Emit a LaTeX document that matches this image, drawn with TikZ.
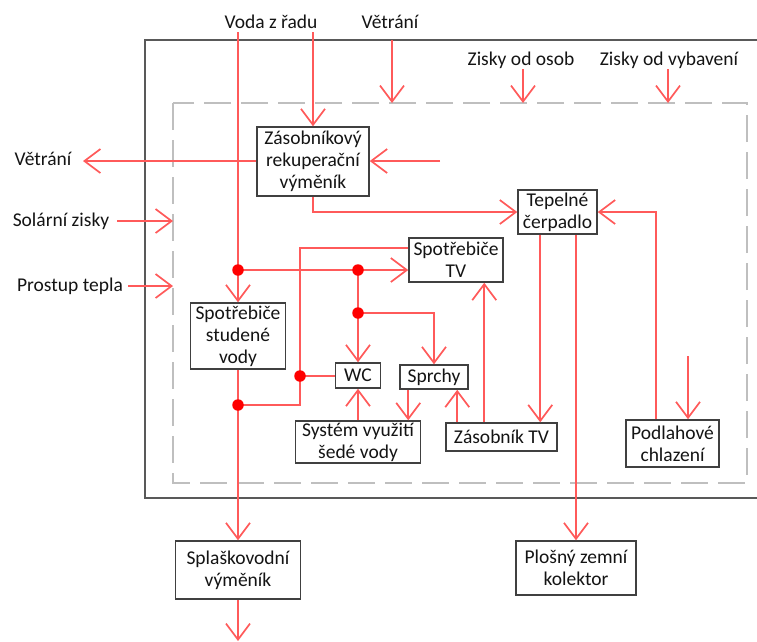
\documentclass[tikz,border=0pt]{standalone}
\usepackage{fontspec}
\setmainfont{Carlito}
\usetikzlibrary{arrows.meta}
\definecolor{flowred}{HTML}{FF5A5A}
\definecolor{dotred}{HTML}{FF0000}
\definecolor{boxgray}{HTML}{404040}
\definecolor{wallgray}{HTML}{595959}
\definecolor{zonegray}{HTML}{BFBFBF}
\definecolor{txt}{HTML}{141414}
\begin{document}
\begin{tikzpicture}[x=1pt,y=-1pt,
  >={Straight Barb[length=16pt,width=24pt]},
  every node/.style={text=txt, font=\fontsize{19.5}{22}\selectfont},
  box/.style={draw=boxgray, line width=1.5pt, fill=white, align=center, inner sep=0pt},
  flow/.style={draw=flowred, line width=1.7pt, ->},
  link/.style={draw=flowred, line width=1.7pt},
  junction/.style={circle, fill=dotred, inner sep=0pt, minimum size=11.5pt},
  lbl/.style={inner sep=0pt, anchor=center}
]
\useasboundingbox (0,0) rectangle (757,641);

% building envelope and heated zone
\draw[wallgray, line width=2pt] (757,40) -- (145,40) -- (145,498) -- (757,498);
\draw[zonegray, line width=1.5pt, dash pattern=on 27pt off 10pt] (173,103) rectangle (747,483);

% outer labels
\node[lbl] (tvoda) at (271,22) {Voda z řadu};
\node[lbl] (tvent) at (390,22) {Větrání};
\node[lbl] (tosob) at (521,60) {Zisky od osob};
\node[lbl] (tvyb) at (669,60) {Zisky od vybavení};
\node[lbl] (tventout) at (43,159) {Větrání};
\node[lbl] (tsol) at (61,221) {Solární zisky};
\node[lbl] (tprost) at (70,286) {Prostup tepla};

% components
\node[box, minimum width=112pt, minimum height=69pt] (zrv) at (313,161.5) {Zásobníkový\\rekuperační\\výměník};
\node[box, minimum width=79pt, minimum height=44pt] (tc) at (557.5,212) {Tepelné\\čerpadlo};
\node[box, minimum width=94pt, minimum height=44pt] (stv) at (456,260) {Spotřebiče\\TV};
\node[box, minimum width=95pt, minimum height=66pt] (ssv) at (238,336) {Spotřebiče\\studené\\vody};
\node[box, minimum width=45pt, minimum height=25pt] (wc) at (358,375.5) {WC};
\node[box, minimum width=68pt, minimum height=24pt] (spr) at (434,377) {Sprchy};
\node[box, minimum width=125pt, minimum height=42pt] (sys) at (358,442) {Systém využití\\šedé vody};
\node[box, minimum width=111pt, minimum height=28pt] (ztv) at (501.5,437) {Zásobník TV};
\node[box, minimum width=93pt, minimum height=47pt] (pch) at (672.5,443.5) {Podlahové\\chlazení};
\node[box, minimum width=125pt, minimum height=58pt] (spl) at (238,570) {Splaškovodní\\výměník};
\node[box, minimum width=120pt, minimum height=54pt] (pzk) at (576,568) {Plošný zemní\\kolektor};

% free ends of the connectors
\coordinate (vodaA) at (238,32);
\coordinate (vodaB) at (313,32);
\coordinate (ventTop) at (392,40);
\coordinate (ventZone) at (392,103);
\coordinate (osobTop) at (523,69);
\coordinate (osobZone) at (523,103);
\coordinate (vybTop) at (668,69);
\coordinate (vybZone) at (668,103);
\coordinate (ventOut) at (83,161);
\coordinate (ventIn) at (440,161);
\coordinate (solStart) at (117,221);
\coordinate (solZone) at (173,221);
\coordinate (prostStart) at (128,286);
\coordinate (prostZone) at (173,286);
\coordinate (coolIn) at (688,356);
\coordinate (drainOut) at (238,641);
\coordinate (greyLow) at (300,405);
\coordinate (greyHigh) at (300,248);

% junctions
\coordinate (d1) at (238,270);
\coordinate (d2) at (358,270);
\coordinate (d3) at (358,313);
\coordinate (d4) at (238,405);
\coordinate (d5) at (300,376);

% supply water
\draw[flow] (vodaA) -- (ssv.north);
\draw[flow] (vodaB) -- (zrv.north);
\draw[flow] (d1) -- (d1 -| stv.west);
\draw[flow] (d2) -- (wc.north);
\draw[flow] (d3) -| (spr.north);

% heat gains and ventilation
\draw[flow] (ventTop) -- (ventZone);
\draw[flow] (osobTop) -- (osobZone);
\draw[flow] (vybTop) -- (vybZone);
\draw[flow] (solStart) -- (solZone);
\draw[flow] (prostStart) -- (prostZone);
\draw[flow] (ventOut -| zrv.west) -- (ventOut);
\draw[flow] (ventIn) -- (ventIn -| zrv.east);
\draw[flow] (zrv.south) |- (tc.west);

% waste water
\draw[flow] (ssv.south) -- (spl.north);
\draw[flow] (spl.south) -- (drainOut);
\draw[link] (d4) -- (greyLow) -- (greyHigh) -- (greyHigh -| stv.west);
\draw[link] (d5) -- (d5 -| wc.west);
\draw[flow] ([xshift=9pt]spr.south west) -- ([xshift=9pt]spr.south west |- sys.north);
\draw[flow] (wc.south |- sys.north) -- (wc.south);

% hot water and heat pump
\draw[flow] ([xshift=12pt]ztv.north west) -- ([xshift=12pt]ztv.north west |- spr.south);
\draw[flow] ([xshift=39pt]ztv.north west) -- ([xshift=39pt]ztv.north west |- stv.south);
\draw[flow] ([xshift=23pt]tc.south west) -- ([xshift=23pt]tc.south west |- ztv.north);
\draw[flow] (tc.south -| pzk.north) -- (pzk.north);
\draw[flow] ([xshift=31pt]pch.north west) |- (tc.east);
\draw[flow] (coolIn) -- (coolIn |- pch.north);

% junction dots
\foreach \d in {d1,d2,d3,d4,d5} \node[junction] at (\d) {};
\end{tikzpicture}
\end{document}
